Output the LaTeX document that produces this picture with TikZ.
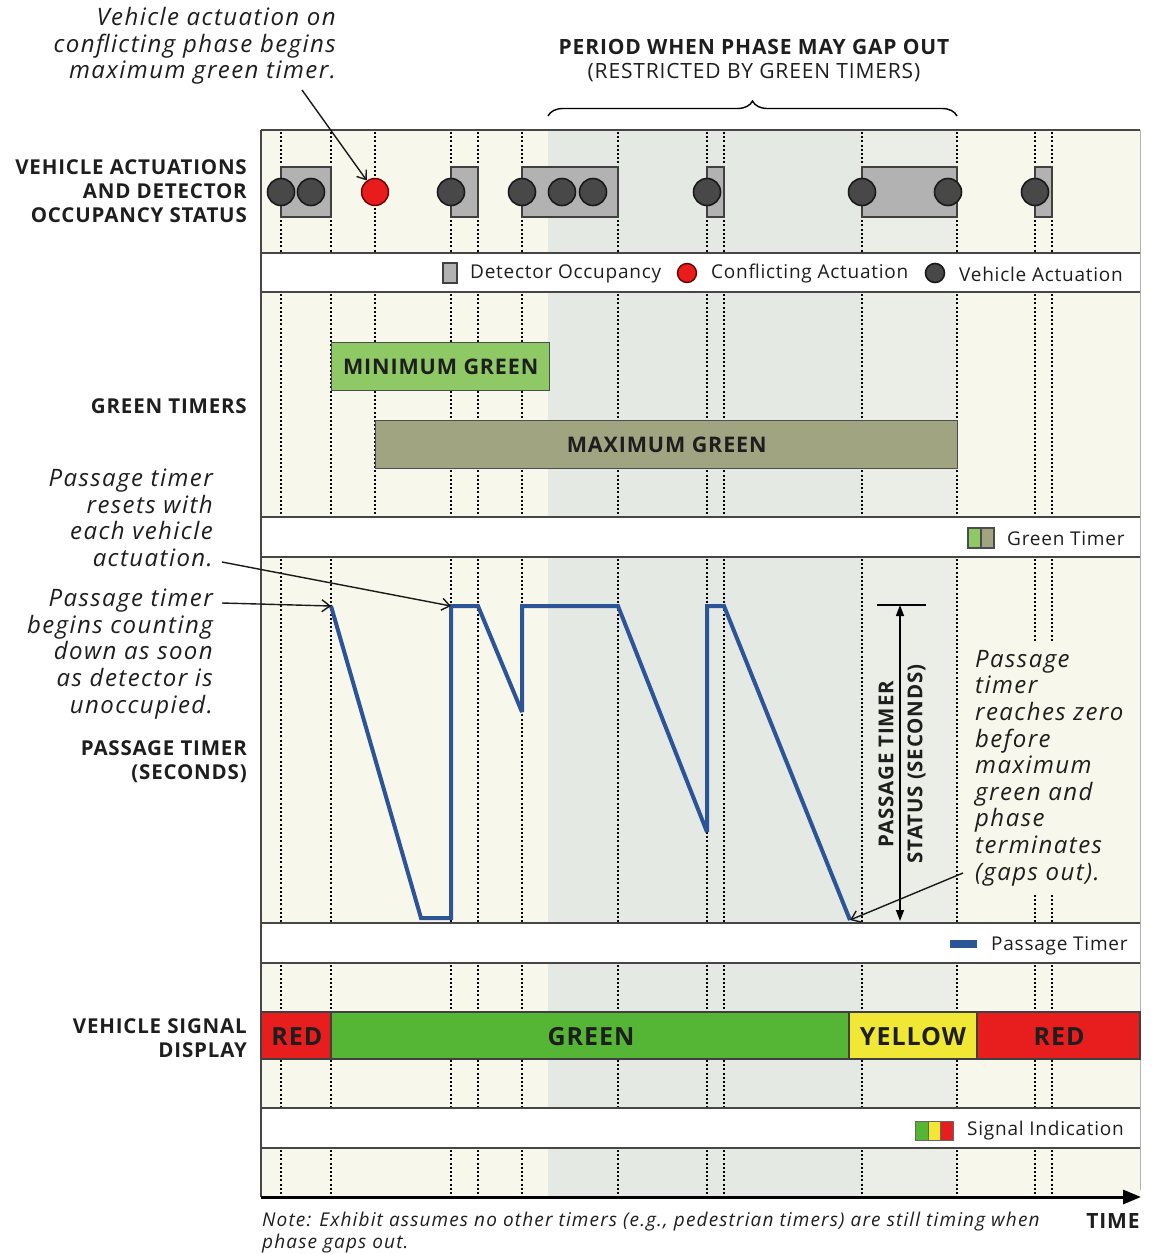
\documentclass[tikz,border=0pt]{standalone}
\usepackage{fontspec}
\setmainfont{Open Sans}
\newfontfamily\lsfont[LetterSpace=4]{Open Sans}
\newfontfamily\itlsfont[LetterSpace=6]{Open Sans}
\usetikzlibrary{arrows.meta,decorations.pathreplacing}
\definecolor{txt}{RGB}{30,30,30}
\definecolor{cream}{RGB}{248,247,236}
\definecolor{shadeA}{RGB}{229,233,228}
\definecolor{shadeB}{RGB}{235,238,231}
\definecolor{sepline}{RGB}{70,70,70}
\definecolor{occgray}{RGB}{178,178,178}
\definecolor{vehgray}{RGB}{72,72,72}
\definecolor{confred}{RGB}{232,28,28}
\definecolor{mingreen}{RGB}{142,201,102}
\definecolor{maxgreen}{RGB}{160,164,128}
\definecolor{ptblue}{RGB}{44,84,150}
\definecolor{sigred}{RGB}{232,30,30}
\definecolor{siggreen}{RGB}{84,182,52}
\definecolor{sigyellow}{RGB}{240,232,52}
\begin{document}
\begin{tikzpicture}[x=1pt,y=-1pt,
  bandline/.style={draw=sepline,line width=1.4pt},
  gridline/.style={line width=2.6pt,dash pattern=on 2pt off 2.2pt,black},
  occbox/.style={draw=black!75,line width=1.2pt,fill=occgray},
  veh/.style={circle,draw=black!90,line width=1.6pt,fill=vehgray,minimum size=27pt,inner sep=0},
  conf/.style={circle,draw=black!60!red,line width=1.4pt,fill=confred,minimum size=27pt,inner sep=0},
  sidelbl/.style={font=\lsfont\fontsize{20.5}{24}\selectfont\bfseries,align=right,anchor=east,inner sep=0,text=txt},
  note/.style={font=\itlsfont\fontsize{24}{26.6}\selectfont\itshape,inner sep=0,text=txt},
  legtxt/.style={font=\lsfont\fontsize{19}{22}\selectfont,anchor=west,inner sep=0,text=txt},
  barlbl/.style={font=\lsfont\fontsize{25}{28}\selectfont\bfseries,text=txt,inner sep=0},
  boxlbl/.style={font=\lsfont\fontsize{21.5}{24}\selectfont\bfseries,text=txt,inner sep=0},
  timerbox/.style={draw=black!70,line width=1.4pt},
  callout/.style={-{Straight Barb[length=8pt,width=12pt,line width=1.4pt]},line width=1.4pt,black!90},
]
\useasboundingbox (0,0) rectangle (1154,1254);
\fill[white] (0,0) rectangle (1154,1254);

% ---------- band backgrounds ----------
\foreach \ya/\yb in {130/253,292/517,557/923,963/1108,1148/1197}{
  \fill[cream] (261,\ya) rectangle (1140,\yb);
  \fill[shadeA] (548,\ya) rectangle (862,\yb);
  \fill[shadeB] (862,\ya) rectangle (957,\yb);
}

% ---------- dotted grid lines ----------
\def\xsall{281,331,375,451,478,522,618,707,724,862,957,1035,1052}
\def\xsno{281,331,451,478,522,618,707,724,862,957,1035,1052}
\foreach \x in \xsall {
  \draw[gridline] (\x,132) -- (\x,252);
  \draw[gridline] (\x,294) -- (\x,516);
}
\foreach \x in \xsno {
  \draw[gridline] (\x,559) -- (\x,922);
  \draw[gridline] (\x,965) -- (\x,1011);
  \draw[gridline] (\x,1060) -- (\x,1107);
  \draw[gridline] (\x,1150) -- (\x,1195);
}

% ---------- band separators ----------
\foreach \y in {130,253,292,517,557,923,963,1108,1148}{
  \draw[bandline] (261,\y) -- (1140,\y);
}
\draw[bandline] (261,130) -- (261,1197);
\draw[draw=black!30,line width=1pt] (1140,130) -- (1140,1190);

% ---------- actuation band ----------
\draw[occbox] (281,167) rectangle (331,217);
\draw[occbox] (451,167) rectangle (478,217);
\draw[occbox] (522,167) rectangle (618,217);
\draw[occbox] (707,167) rectangle (724,217);
\draw[occbox] (862,167) rectangle (957,217);
\draw[occbox] (1035,167) rectangle (1052,217);
\node[veh] (v1) at (281,192) {};
\node[veh] (v2) at (311,192) {};
\node[conf] (c1) at (375,192) {};
\node[veh] (v3) at (451,192) {};
\node[veh] (v4) at (522,192) {};
\node[veh] (v5) at (562,192) {};
\node[veh] (v6) at (593,192) {};
\node[veh] (v7) at (707,192) {};
\node[veh] (v8) at (862,192) {};
\node[veh] (v9) at (948,192) {};
\node[veh] (v10) at (1035,192) {};

% legend 1
\draw[occbox] (443,263) rectangle (457,283);
\node[legtxt] (l1) at (470,274) {Detector Occupancy};
\node[conf,minimum size=19pt] (l2c) at (687,273) {};
\node[legtxt] (l2) at (711,274) {Conflicting Actuation};
\node[veh,minimum size=19pt] (l3c) at (935,273) {};
\node[legtxt] (l3) at (959,274) {Vehicle Actuation};

% ---------- green timers ----------
\node[timerbox,fill=mingreen,minimum width=218pt,minimum height=48pt,anchor=north west,inner sep=0] (ming) at (331,342) {};
\node[boxlbl] (mingt) at (ming.center) {MINIMUM GREEN};
\node[timerbox,fill=maxgreen,minimum width=582pt,minimum height=48pt,anchor=north west,inner sep=0] (maxg) at (375,420) {};
\node[boxlbl] (maxgt) at (maxg.center) {MAXIMUM GREEN};

% legend 2
\draw[draw=black!70,line width=1.2pt,fill=mingreen] (968,528) rectangle (981,548);
\draw[draw=black!70,line width=1.2pt,fill=maxgreen] (981,528) rectangle (994,548);
\node[legtxt] (l4) at (1007,539) {Green Timer};

% ---------- passage timer ----------
\coordinate (p1) at (331,606);
\coordinate (p2) at (451,606);
\coordinate (pz) at (850,920);
\draw[ptblue,line width=4pt,line join=miter,miter limit=2]
  (p1) -- (421,918) -- (451,918) -- (p2) -- (478,606) -- (522,712) -- (522,606)
  -- (618,606) -- (707,832) -- (707,606) -- (724,606) -- (pz);

% dimension
\draw[line width=1.4pt] (877,605) -- (926,605);
\coordinate (dtop) at (900,605);
\coordinate (dbot) at (900,921);
\draw[{Triangle[length=11pt,width=8pt]}-{Triangle[length=11pt,width=8pt]},line width=1.4pt] (dtop) -- (dbot);
\node[rotate=90,font=\lsfont\fontsize{20.5}{29}\selectfont\bfseries,align=center,text=txt,inner sep=0] (dim) at (902,764) {PASSAGE TIMER\\STATUS (SECONDS)};

% right annotation
\node[note,fill=cream,align=left,anchor=west,inner xsep=2pt,inner ysep=8pt] (zeronote) at (973,768)
  {Passage\\timer\\reaches zero\\before\\maximum\\green and\\phase\\terminates\\(gaps out).};
\coordinate (zs) at (963,873);
\draw[callout] (zs) -- (pz);

% legend 3
\fill[ptblue] (950,940) rectangle (977,948);
\node[legtxt] (l5) at (991,946) {Passage Timer};

% ---------- signal display ----------
\draw[black!75,line width=1.2pt,fill=sigred] (261,1012) rectangle (331,1059);
\draw[black!75,line width=1.2pt,fill=siggreen] (331,1012) rectangle (849,1059);
\draw[black!75,line width=1.2pt,fill=sigyellow] (849,1012) rectangle (977,1059);
\draw[black!75,line width=1.2pt,fill=sigred] (977,1012) rectangle (1140,1059);
\node[barlbl] (s1) at (297,1037) {RED};
\node[barlbl] (s2) at (591,1037) {GREEN};
\node[barlbl] (s3) at (913,1037) {YELLOW};
\node[barlbl] (s4) at (1059,1037) {RED};

% legend 4
\draw[draw=black!60,line width=1pt,fill=siggreen] (915,1121) rectangle (928,1140);
\draw[draw=black!60,line width=1pt,fill=sigyellow] (928,1121) rectangle (940,1140);
\draw[draw=black!60,line width=1pt,fill=sigred] (940,1121) rectangle (953,1140);
\node[legtxt] (l6) at (967,1131) {Signal Indication};

% ---------- time axis ----------
\coordinate (t0) at (261,1197);
\coordinate (t1) at (1141,1197);
\draw[-{Triangle[length=18pt,width=14pt]},line width=3pt] (t0) -- (t1);
\node[font=\lsfont\fontsize{21}{24}\selectfont\bfseries,text=txt,inner sep=0] (time) at (1113,1221) {TIME};
\node[font=\itlsfont\fontsize{19}{22}\selectfont\itshape,align=left,anchor=west,inner sep=0,text=txt] (footnote) at (262,1233)
  {Note: Exhibit assumes no other timers (e.g., pedestrian timers) are still timing when\\phase gaps out.};

% ---------- side labels ----------
\node[sidelbl] (lab1) at (247,191) {VEHICLE ACTUATIONS\\AND DETECTOR\\OCCUPANCY STATUS};
\node[sidelbl] (lab2) at (247,406) {GREEN TIMERS};
\node[sidelbl] (lab3) at (247,762) {PASSAGE TIMER\\(SECONDS)};
\node[sidelbl] (lab4) at (247,1038) {VEHICLE SIGNAL\\DISPLAY};

% ---------- left annotations ----------
\node[note,align=right,anchor=east] (resetnote) at (213,518) {Passage timer\\resets with\\each vehicle\\actuation.};
\coordinate (rs) at (222,562);
\draw[callout] (rs) -- (p2);
\node[note,align=right,anchor=east] (countnote) at (213,654) {Passage timer\\begins counting\\down as soon\\as detector is\\unoccupied.};
\coordinate (cs) at (222,603);
\draw[callout] (cs) -- (p1);

% ---------- top annotations ----------
\node[note,align=right,anchor=east] (topnote) at (336,46) {Vehicle actuation on\\conflicting phase begins\\maximum green timer.};
\coordinate (ts) at (302,90);
\draw[callout] (ts) -- (c1);
\node[font=\lsfont\fontsize{21}{24}\selectfont,align=center,text=txt,inner sep=0] (period) at (754,61)
  {\bfseries PERIOD WHEN PHASE MAY GAP OUT\\(RESTRICTED BY GREEN TIMERS)};
\draw[decorate,decoration={brace,amplitude=15pt},line width=1.4pt] (548,116) -- (957,116);
\end{tikzpicture}
\end{document}
